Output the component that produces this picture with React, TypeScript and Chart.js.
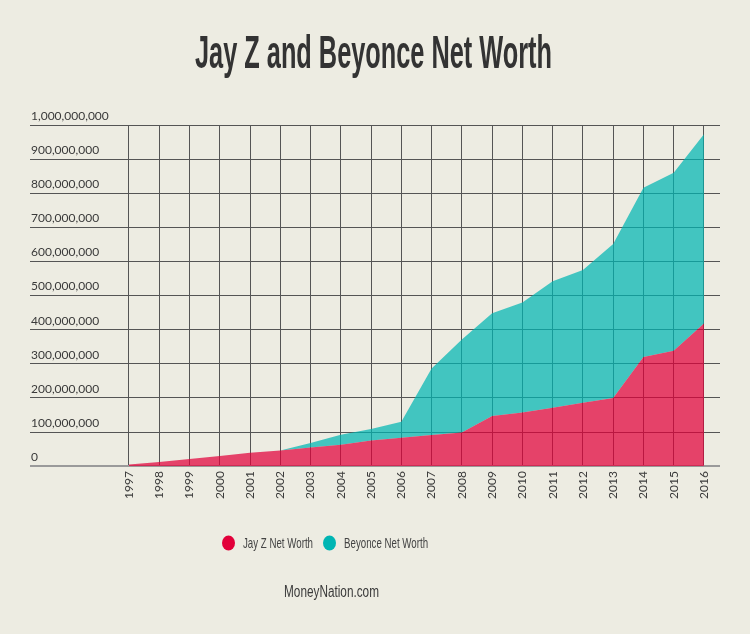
import { useEffect, useRef } from 'react';
import { Chart, registerables } from 'chart.js';

Chart.register(...registerables);

// net worth in US dollars
const years = [1997, 1998, 1999, 2000, 2001, 2002, 2003, 2004, 2005, 2006, 2007, 2008, 2009, 2010, 2011, 2012, 2013, 2014, 2015, 2016];
const jayZ = [
  5_000_000, 12_000_000, 21_000_000, 30_000_000, 39_000_000, 46_000_000, 55_000_000, 63_000_000, 75_000_000, 83_000_000,
  91_000_000, 99_000_000, 147_000_000, 157_000_000, 171_000_000, 186_000_000, 200_000_000, 320_000_000, 338_000_000, 418_000_000,
];
const beyonce = [
  0, 0, 0, 0, 0, 0, 13_000_000, 29_000_000, 34_000_000, 47_000_000,
  195_000_000, 272_000_000, 301_000_000, 323_000_000, 371_000_000, 389_000_000, 451_000_000, 496_000_000, 522_000_000, 555_000_000,
];
const yTicks = [0, 100_000_000, 200_000_000, 300_000_000, 400_000_000, 500_000_000, 600_000_000, 700_000_000, 800_000_000, 900_000_000, 1_000_000_000];
const seriesNames = ['Jay Z Net Worth', 'Beyonce Net Worth'];
const seriesColors = ['#e2003a', '#00b5b3'];
const areaColors = ['rgba(226, 0, 58, 0.72)', 'rgba(0, 181, 179, 0.72)'];

const TITLE = 'Jay Z and Beyonce Net Worth';
const FOOTER = 'MoneyNation.com';
const BG = '#edece2';
const NARROW = '"Liberation Sans Narrow", "Liberation Sans", sans-serif';

// draws text squeezed horizontally to the given width
function squeezed(ctx: CanvasRenderingContext2D, text: string, x: number, y: number, width: number, align: CanvasTextAlign) {
  const w = ctx.measureText(text).width;
  ctx.save();
  ctx.translate(x, y);
  ctx.scale(width / w, 1);
  ctx.textAlign = align;
  ctx.fillText(text, 0, 0);
  ctx.restore();
}

const decorations = {
  id: 'decorations',
  beforeDraw(chart: Chart) {
    const { ctx, width, height } = chart;
    ctx.save();
    ctx.fillStyle = BG;
    ctx.fillRect(0, 0, width, height);
    ctx.restore();
  },
  afterDraw(chart: Chart) {
    const ctx = chart.ctx;
    ctx.save();
    ctx.textBaseline = 'alphabetic';

    ctx.fillStyle = '#333';
    ctx.font = `bold 46px ${NARROW}`;
    squeezed(ctx, TITLE, 373.5, 68, 357, 'center');

    // legend
    ctx.font = `15px ${NARROW}`;
    const factor = 70 / ctx.measureText(seriesNames[0]).width;
    let x = 222;
    chart.data.datasets.forEach((ds, i) => {
      ctx.fillStyle = seriesColors[i];
      ctx.beginPath();
      ctx.ellipse(x + 6.5, 543, 6.5, 7.5, 0, 0, Math.PI * 2);
      ctx.fill();
      const label = String(ds.label);
      const w = ctx.measureText(label).width * factor;
      ctx.fillStyle = '#444';
      squeezed(ctx, label, x + 21, 548, w, 'left');
      x += 21 + w + 10;
    });

    ctx.fillStyle = '#3a3a3a';
    ctx.font = `16px ${NARROW}`;
    squeezed(ctx, FOOTER, 331.5, 597, 95, 'center');
    ctx.restore();
  },
};

export default function App() {
  const canvasRef = useRef<HTMLCanvasElement | null>(null);

  useEffect(() => {
    document.body.style.margin = '0';
    document.body.style.background = BG;
    if (!canvasRef.current) return;

    const chart = new Chart(canvasRef.current, {
      type: 'line',
      data: {
        datasets: [0, 1].map(i => ({
          label: seriesNames[i],
          data: years.map((year, j) => ({ x: year, y: (i === 0 ? jayZ : beyonce)[j] })),
          backgroundColor: areaColors[i],
          borderColor: 'transparent',
          borderWidth: 0,
          pointRadius: 0,
          fill: i === 0 ? 'origin' : '-1',
          tension: 0,
        })),
      },
      options: {
        responsive: false,
        animation: false,
        layout: { padding: { top: 125, left: 28, right: 30, bottom: 130 } },
        plugins: {
          legend: { display: false },
          tooltip: { enabled: false },
        },
        scales: {
          x: {
            type: 'linear',
            min: 1993.73,
            max: 2016.53,
            afterBuildTicks: scale => {
              scale.ticks = years.map(value => ({ value }));
            },
            border: { display: false },
            grid: { color: '#555', drawTicks: false },
            ticks: {
              autoSkip: false,
              minRotation: 90,
              maxRotation: 90,
              padding: 5,
              color: '#3a3a3a',
              font: { family: 'Lato', size: 12 },
              callback: value => String(value),
            },
          },
          y: {
            stacked: true,
            min: 0,
            max: 1_000_000_000,
            afterBuildTicks: scale => {
              scale.ticks = yTicks.map(value => ({ value }));
            },
            border: { display: false },
            grid: {
              drawTicks: false,
              color: c => (c.tick && c.tick.value === 0 ? '#9a9a9a' : '#555'),
              lineWidth: c => (c.tick && c.tick.value === 0 ? 2 : 1),
            },
            ticks: {
              mirror: true,
              padding: 1,
              labelOffset: -9,
              color: '#3a3a3a',
              font: { family: 'Lato', size: 12 },
              callback: value => Number(value).toLocaleString('en-US'),
            },
          },
        },
      },
      plugins: [decorations],
    });

    return () => chart.destroy();
  }, []);

  return <canvas ref={canvasRef} width={750} height={634} />;
}
